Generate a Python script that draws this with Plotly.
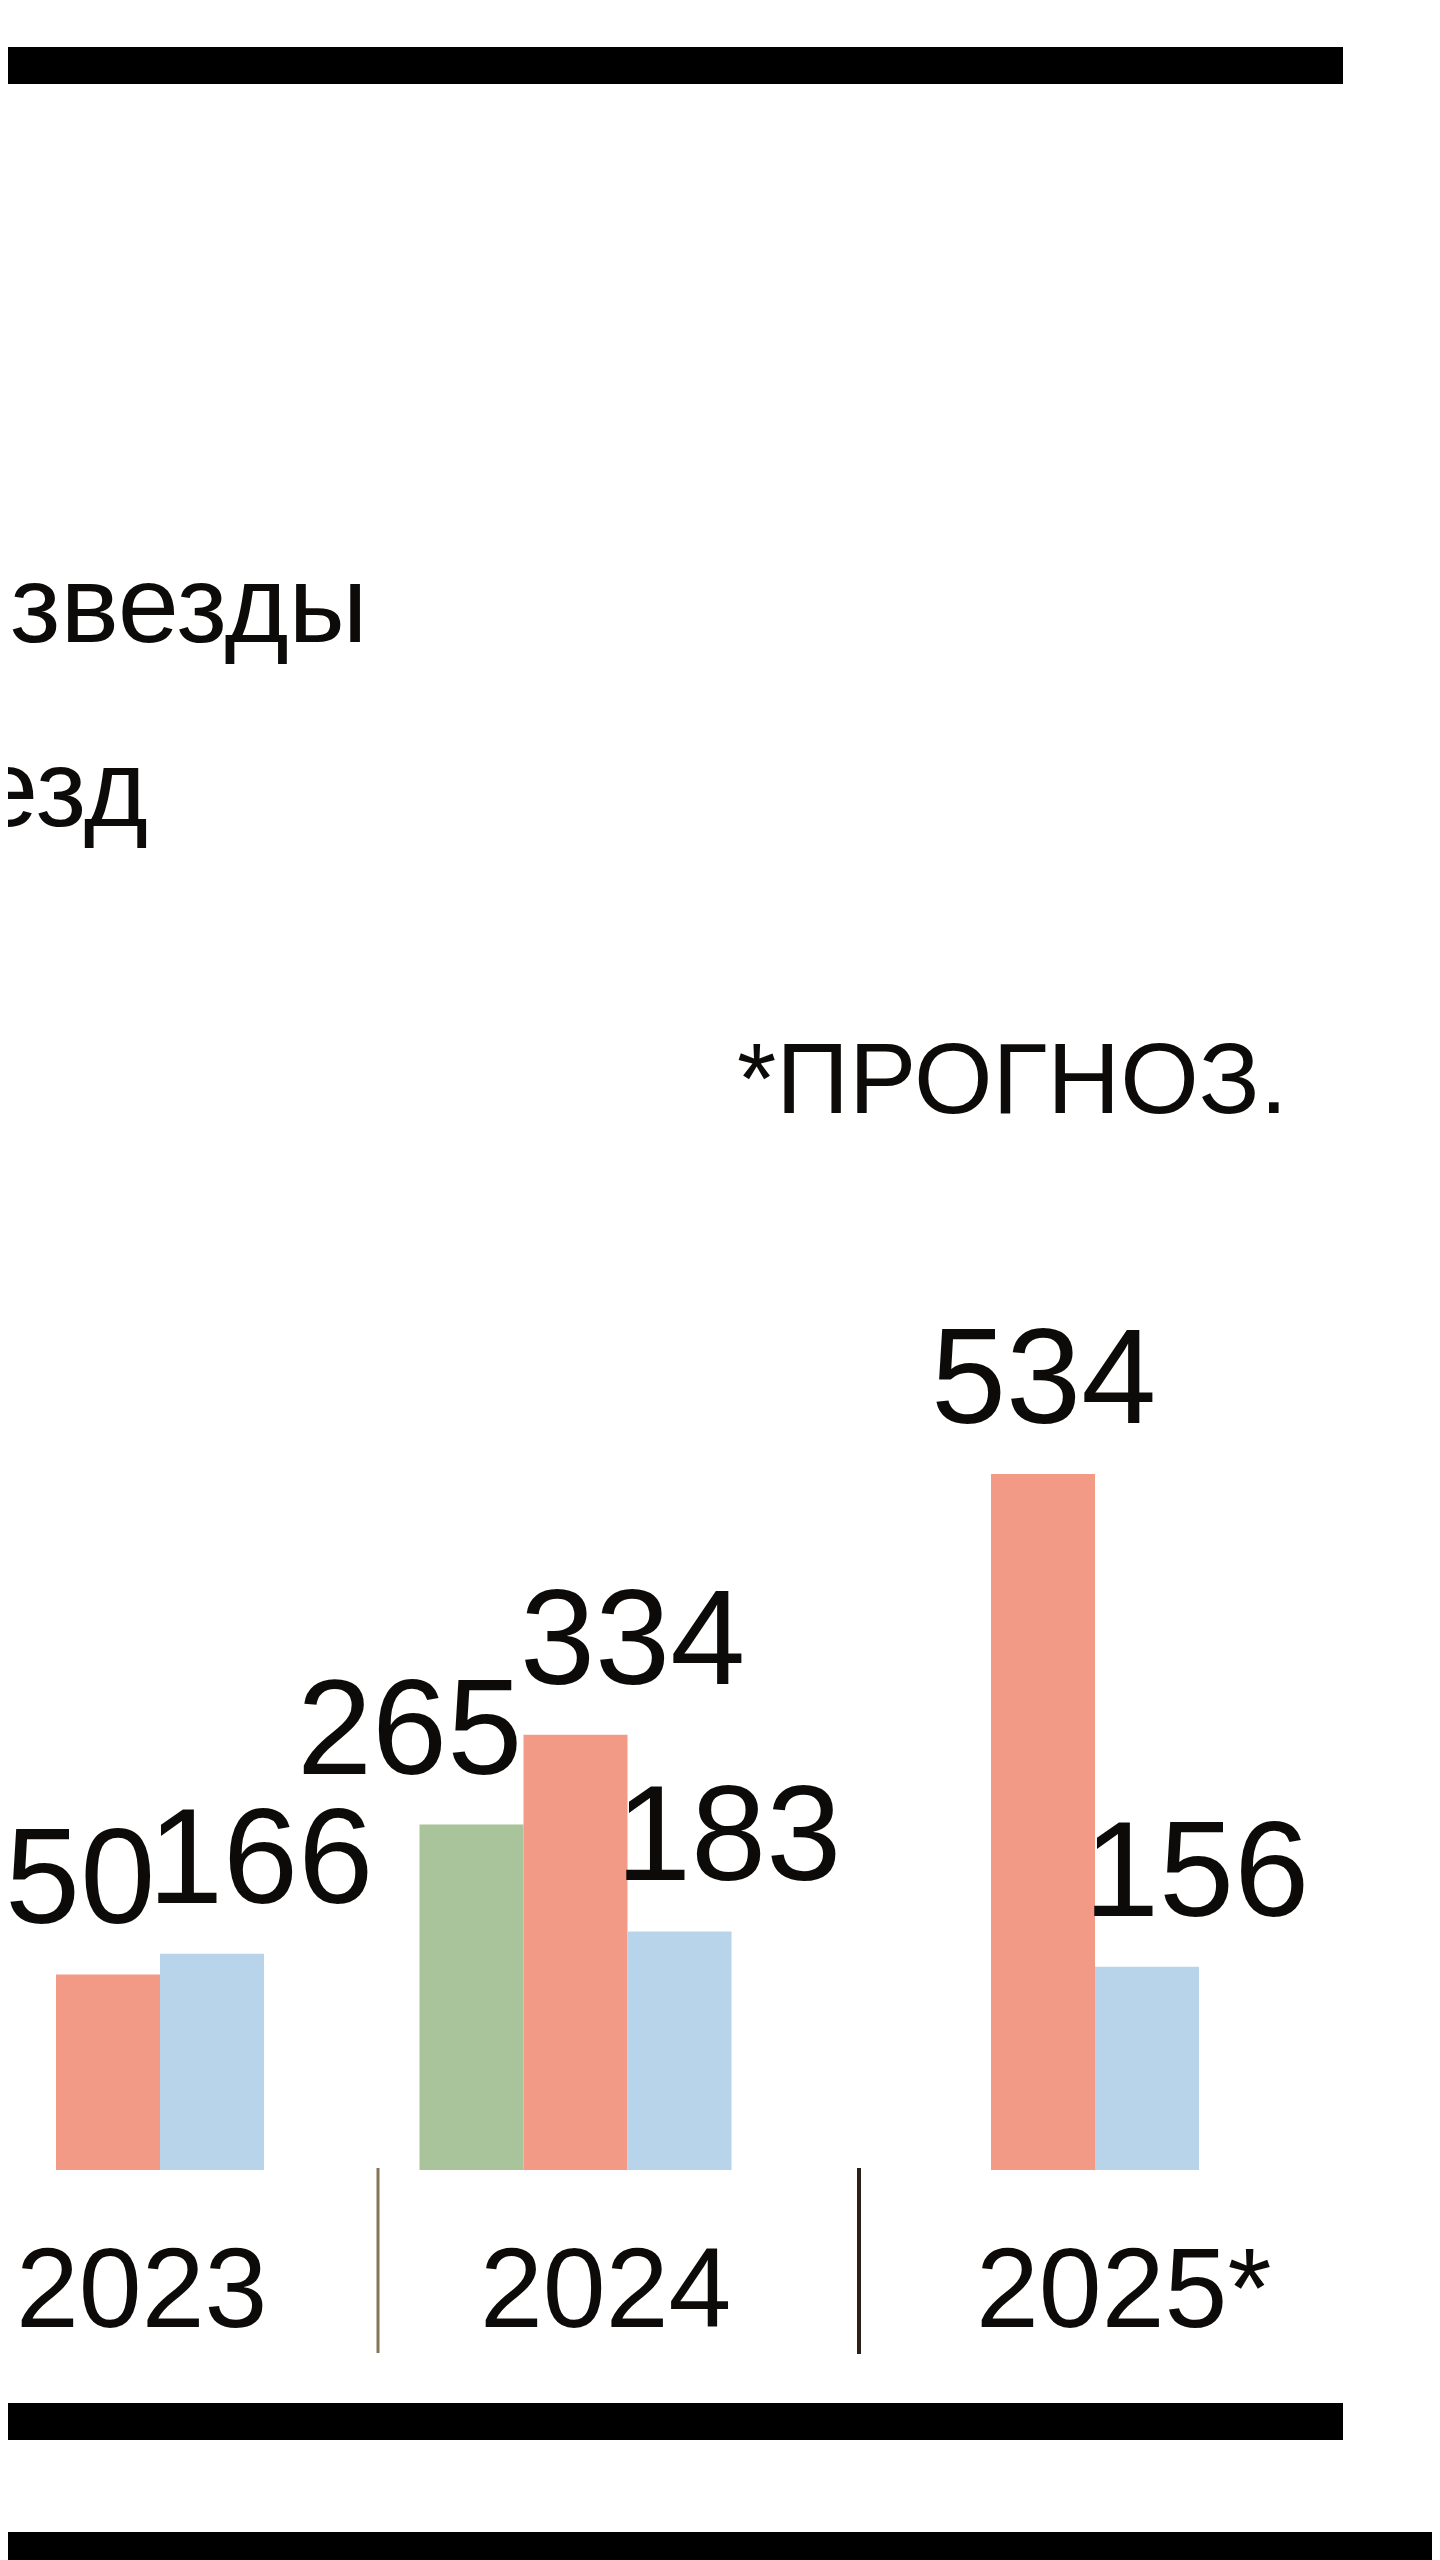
import plotly.graph_objects as go

# ---- data ----
years = ["2023", "2024", "2025*"]
green_vals = [None, 265, None]
red_vals = [150, 334, 534]
blue_vals = [166, 183, 156]
year_labels = ["2023", "2024", "2025*"]

# ---- styles ----
W, H = 1440, 2560
OFF = 8  # default page margin of the html body
GREEN = "#A9C49B"
RED = "#F29A86"
BLUE = "#B7D4EA"
INK = "#0d0b09"
FONT = "Liberation Sans, Arial, Helvetica, sans-serif"


def px_x(X):
    return (X - OFF) / W


def px_y(Y):
    return (H - (Y - OFF)) / H


BASE_PX = 2170 - OFF    # baseline of bars (px from figure top)
PX_PER_UNIT = 1.3034    # bar scale
y_dom0 = (H - BASE_PX) / H
y_max = BASE_PX / PX_PER_UNIT

fig = go.Figure()
for name, vals, col in [("green", green_vals, GREEN), ("red", red_vals, RED), ("blue", blue_vals, BLUE)]:
    fig.add_trace(go.Bar(x=years, y=vals, name=name, marker=dict(color=col, line=dict(width=0)),
                         hoverinfo="skip", showlegend=False))

# value labels (placed relative to their category centre, px)
label_shift = {
    "green": [None, -166, None],
    "red": [-66, 57, 0],
    "blue": [152, 153, 153],
}
annotations = []
LBL = 135
for name, vals in [("green", green_vals), ("red", red_vals), ("blue", blue_vals)]:
    for i, v in enumerate(vals):
        if v is None:
            continue
        annotations.append(dict(
            x=i, y=v, xref="x", yref="y", text=str(v), showarrow=False,
            xanchor="center", yanchor="bottom", xshift=label_shift[name][i], yshift=20,
            font=dict(family=FONT, size=LBL, color=INK)))

# year labels under the groups
year_shift = [33, 30, 80]
YS = 113
for i, t in enumerate(year_labels):
    annotations.append(dict(
        x=i, y=px_y(2353), xref="x", yref="paper", text=t, showarrow=False,
        xanchor="center", yanchor="bottom", xshift=year_shift[i],
        font=dict(family=FONT, size=YS, color=INK)))

# legend-like text fragments (cropped at the left edge)
annotations.append(dict(x=px_x(8), y=px_y(667), xref="paper", yref="paper", text="звезды",
                        showarrow=False, xanchor="left", yanchor="bottom",
                        font=dict(family=FONT, size=110, color=INK)))
annotations.append(dict(x=px_x(150), y=px_y(851), xref="paper", yref="paper", text="езд",
                        showarrow=False, xanchor="right", yanchor="bottom",
                        font=dict(family=FONT, size=110, color=INK)))
annotations.append(dict(x=px_x(1290), y=px_y(1136), xref="paper", yref="paper", text="*ПРОГНОЗ.",
                        showarrow=False, xanchor="right", yanchor="bottom",
                        font=dict(family=FONT, size=101, color=INK)))

shapes = [
    # thick black rules
    dict(type="rect", xref="paper", yref="paper", x0=px_x(0), x1=px_x(1343), y0=px_y(84), y1=px_y(47),
         fillcolor="#000000", line=dict(width=0)),
    dict(type="rect", xref="paper", yref="paper", x0=px_x(0), x1=px_x(1343), y0=px_y(2440), y1=px_y(2403),
         fillcolor="#000000", line=dict(width=0)),
    dict(type="rect", xref="paper", yref="paper", x0=px_x(0), x1=1, y0=px_y(2560), y1=px_y(2532),
         fillcolor="#000000", line=dict(width=0)),
    # group separators
    dict(type="line", xref="paper", yref="paper", x0=px_x(378), x1=px_x(378), y0=px_y(2353), y1=px_y(2168),
         line=dict(color="#857456", width=3)),
    dict(type="line", xref="paper", yref="paper", x0=px_x(859), x1=px_x(859), y0=px_y(2354), y1=px_y(2168),
         line=dict(color="#2a2018", width=4)),
]

cat_px = [108 - OFF, 575.5 - OFF, 1043 - OFF]
step = (cat_px[2] - cat_px[0]) / 2
x0 = -cat_px[0] / step
x1 = (W - cat_px[0]) / step

fig.update_layout(
    width=W, height=H,
    margin=dict(l=0, r=0, t=0, b=0),
    paper_bgcolor="#ffffff", plot_bgcolor="rgba(0,0,0,0)",
    barmode="group", bargap=1 - 312 / step, bargroupgap=0,
    xaxis=dict(type="category", range=[x0, x1], domain=[0, 1], visible=False, fixedrange=True),
    yaxis=dict(range=[0, y_max], domain=[y_dom0, 1], visible=False, fixedrange=True),
    annotations=annotations, shapes=shapes, showlegend=False,
)

fig.write_html("out.html")
